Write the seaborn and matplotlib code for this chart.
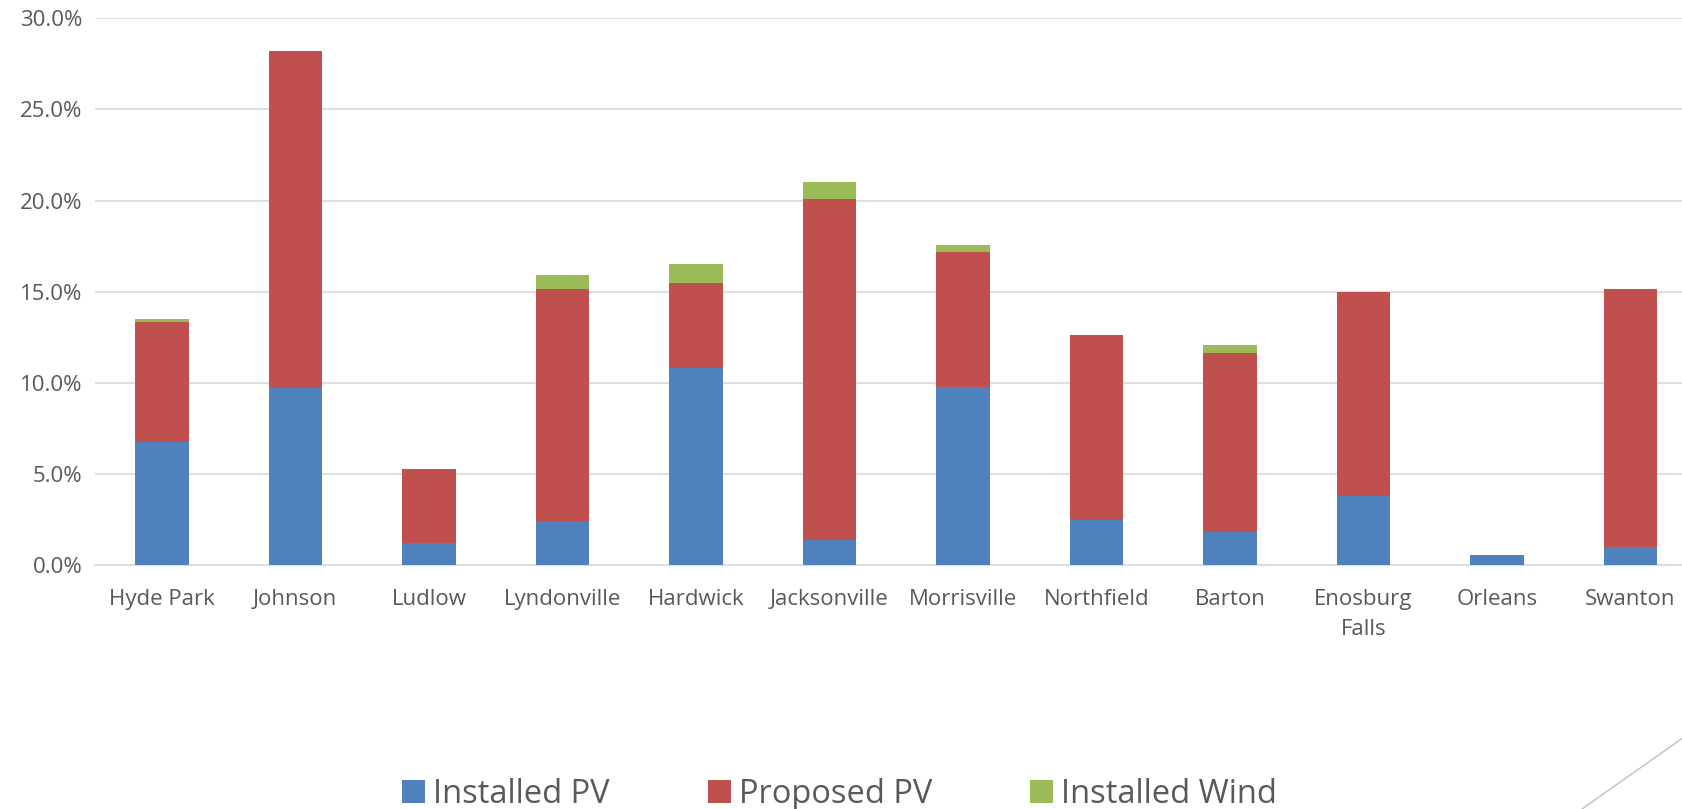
import matplotlib
matplotlib.use("Agg")
import matplotlib.pyplot as plt
from matplotlib.patches import Patch
from matplotlib.lines import Line2D
from matplotlib.ticker import FuncFormatter
import numpy as np
import pandas as pd
import seaborn as sns

# Share of load served by renewables, per municipal utility (%)
towns = ["Hyde Park", "Johnson", "Ludlow", "Lyndonville", "Hardwick", "Jacksonville",
         "Morrisville", "Northfield", "Barton", "Enosburg\nFalls", "Orleans", "Swanton"]
installed_pv = [6.75, 9.70, 1.20, 2.41, 10.81, 1.38, 9.76, 2.49, 1.82, 3.81, 0.57, 0.99]
proposed_pv = [6.60, 18.50, 4.09, 12.75, 4.64, 18.73, 7.40, 10.14, 9.83, 11.15, 0.00, 14.18]
installed_wind = [0.15, 0.00, 0.00, 0.76, 1.06, 0.89, 0.42, 0.00, 0.41, 0.00, 0.00, 0.00]
series_names = ["Installed PV", "Proposed PV", "Installed Wind"]
colors = ["#4F81BD", "#C0504D", "#9BBB59"]

df = pd.DataFrame({
    "town": towns,
    "pv": installed_pv,
    "proposed": proposed_pv,
    "wind": installed_wind,
})
df["pv_prop"] = df["pv"] + df["proposed"]
df["total"] = df["pv_prop"] + df["wind"]

sns.set_theme(style="white")
plt.rcParams["font.family"] = ["Open Sans", "DejaVu Sans"]

fig = plt.figure(figsize=(16.83, 8.09), dpi=100)
ax = fig.add_axes([0.0565, 0.3016, 0.952, 0.6758])

# Stacked bars: cumulative totals drawn back to front
for col, c in zip(["total", "pv_prop", "pv"], [colors[2], colors[1], colors[0]]):
    sns.barplot(data=df, x="town", y=col, order=towns, color=c, width=0.40,
                saturation=1, linewidth=0, ax=ax, zorder=3)

ax.set_ylim(0, 30)
ax.set_xlim(-0.5, len(towns) - 0.5)
ax.set_yticks(np.arange(0, 30.1, 5))
ax.yaxis.set_major_formatter(FuncFormatter(lambda v, p: f"{v:.1f}%"))
ax.grid(axis="y", color="#D9D9D9", linewidth=1.2, zorder=0)
ax.set_axisbelow(True)
for s in ["top", "right", "left"]:
    ax.spines[s].set_visible(False)
ax.spines["bottom"].set_color("#D9D9D9")
ax.spines["bottom"].set_linewidth(1.2)
ax.set_xlabel("")
ax.set_ylabel("")
ax.tick_params(axis="both", length=0, labelsize=16, labelcolor="#595959")
ax.tick_params(axis="x", pad=17)
ax.tick_params(axis="y", pad=9)
for lbl in ax.get_xticklabels():
    lbl.set_linespacing(1.6)

handles = [Patch(facecolor=c, edgecolor="none") for c in colors]
fig.legend(handles, series_names, loc="center", bbox_to_anchor=(0.499, 0.018),
           ncol=3, frameon=False, fontsize=23.5, labelcolor="#595959",
           handlelength=0.7, handleheight=0.7, handletextpad=0.25,
           columnspacing=3.0)

# Decorative slide stroke in the lower right corner
fig.add_artist(Line2D([1.0, 0.94], [0.088, 0.0], transform=fig.transFigure,
                      color="#BFBFBF", linewidth=1.0))

fig.savefig("out.png", dpi=100)
